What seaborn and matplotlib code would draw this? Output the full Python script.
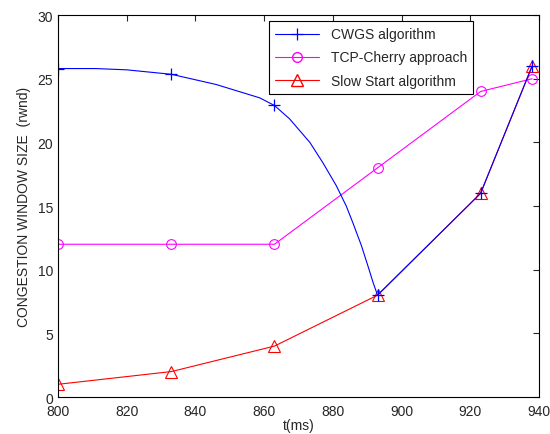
import matplotlib
matplotlib.use('Agg')
import matplotlib.pyplot as plt
from matplotlib.lines import Line2D
import seaborn as sns

# sample times (ms)
t_ms = [800, 833, 863, 893, 923, 938]

cwgs = [25.8, 25.35, 22.9, 8.0, 16.0, 26.0]
tcp_cherry = [12, 12, 12, 18, 24, 25]
slow_start = [1, 2, 4, 8, 16, 26]

# points
cwgs_curve_t = [800, 811, 820, 833, 846, 858.7, 863, 867.4, 873.3, 877.1, 881,
                883.9, 885.8, 888.3, 890.2, 891.7, 893, 923, 938]
cwgs_curve_w = [25.8, 25.8, 25.7, 25.35, 24.55, 23.5, 22.9, 21.85, 20.0, 18.4, 16.6,
                15.0, 13.7, 11.9, 10.3, 9.0, 8.0, 16.0, 26.0]

labels = ['CWGS algorithm', 'TCP-Cherry approach', 'Slow Start algorithm']

sns.set_style('white')
plt.rcParams['font.family'] = ['Liberation Sans', 'DejaVu Sans']
plt.rcParams['font.size'] = 10

fig = plt.figure(figsize=(5.5, 4.35), dpi=100)
ax = fig.add_axes([0.1055, 0.085, 0.8745, 0.878])

lw = 0.8
sns.lineplot(x=t_ms, y=tcp_cherry, color='magenta', lw=lw, marker='o',
             markersize=7, markerfacecolor='none', markeredgecolor='magenta',
             markeredgewidth=0.8, ax=ax, sort=False)
sns.lineplot(x=t_ms, y=slow_start, color='red', lw=lw, marker='^',
             markersize=8, markerfacecolor='none', markeredgecolor='red',
             markeredgewidth=0.8, ax=ax, sort=False)
sns.lineplot(x=cwgs_curve_t, y=cwgs_curve_w, color='blue', lw=lw, ax=ax, sort=False)
ax.plot(t_ms, cwgs, ls='none', marker='+', markersize=8, color='blue', markeredgewidth=0.9)

ax.set_xlim(800, 940)
ax.set_ylim(0, 30)
ax.set_xticks(range(800, 941, 20))
ax.set_yticks(range(0, 31, 5))
ax.tick_params(direction='in', top=True, right=True, length=4, width=0.8, labelsize=10)
ax.tick_params(axis='x', pad=5)
for s in ax.spines.values():
    s.set_color('black')
    s.set_linewidth(0.8)

ax.set_xlabel('t(ms)', fontsize=10, labelpad=0)
ax.set_ylabel('CONGESTION WINDOW SIZE  (rwnd)', fontsize=10, labelpad=5)

handles = [
    Line2D([], [], color='blue', lw=lw, marker='+', markersize=8, markeredgewidth=0.9),
    Line2D([], [], color='magenta', lw=lw, marker='o', markersize=7, markerfacecolor='none'),
    Line2D([], [], color='red', lw=lw, marker='^', markersize=8, markerfacecolor='none'),
]
leg = ax.legend(handles, labels, loc='upper right', bbox_to_anchor=(0.863, 0.984),
                fancybox=False, framealpha=1, edgecolor='black', borderaxespad=0,
                fontsize=10, handlelength=3.2, labelspacing=0.65, borderpad=0.45)
leg.get_frame().set_linewidth(0.8)

fig.savefig('out.png', dpi=100)
